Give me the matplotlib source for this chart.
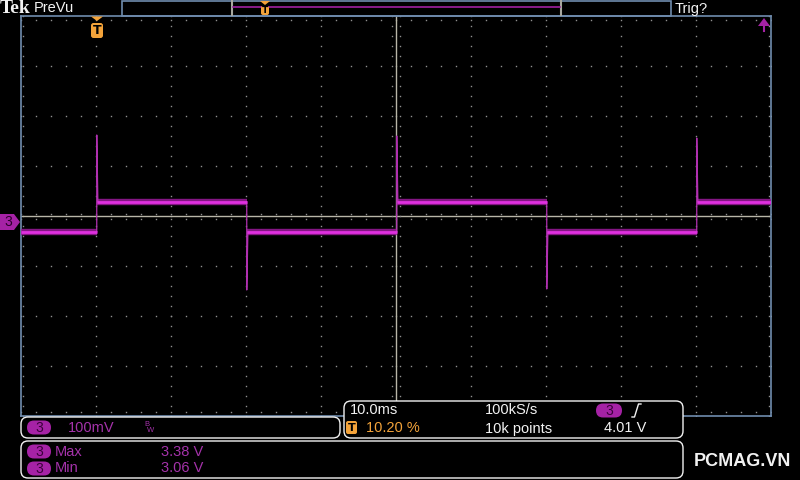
import matplotlib
matplotlib.use("Agg")
import matplotlib.pyplot as plt
from matplotlib.patches import FancyBboxPatch, Polygon, Rectangle

time_per_div_ms = 10.0
volts_per_div_mv = 100.0
edge_times_ms = [10.1, 30.1, 50.1, 70.1, 90.1]
edge_kind = ["rise", "fall", "rise", "fall", "rise"]
spike_peaks_mv = [162, -148, 160, -146, 156]
high_level_mv = 28
low_level_mv = -32
start_level_mv = low_level_mv
screen_span_ms = 100.0

ch_label = "3"
scale_text = "100mV"
max_text = "3.38 V"
min_text = "3.06 V"
timebase_text = "10.0ms"
rate_text = "100kS/s"
trig_pos_text = "10.20 %"
points_text = "10k points"
trig_level_text = "4.01 V"

# ---------------- colours ----------------
BG = "#000000"
BORDER = "#6f8cae"
GRID = "#909090"
CENTER = "#b8b6a8"
TRACE = "#e030e0"
TRACE_DIM = "#9c1a9c"
CH = "#a522a5"
CH_TEXT = "#a432aa"
ORANGE = "#f3a33a"
WHITE = "#f2f2f2"

fig = plt.figure(figsize=(8, 4.8), dpi=100, facecolor=BG)

# graticule axes: x 21..771 px, y 16..416 px
ax = fig.add_axes([21 / 800, 64 / 480, 750 / 800, 400 / 480], facecolor=BG)
ax.set_xlim(0, screen_span_ms)
ax.set_ylim(-4 * volts_per_div_mv, 4 * volts_per_div_mv)
ax.set_xticks([])
ax.set_yticks([])
for s in ax.spines.values():
    s.set_color(BORDER)
    s.set_linewidth(1.2)

# dotted grid
ys_fine = [v * 20 for v in range(-20, 21)]
xs_fine = [v * 2 for v in range(0, 51)]
for i in range(1, 10):
    if i == 5:
        continue
    ax.plot([i * time_per_div_ms] * len(ys_fine), ys_fine, ls="none", marker="s",
            ms=1.0, color=GRID, mew=0)
for j in range(-3, 4):
    if j == 0:
        continue
    ax.plot(xs_fine, [j * volts_per_div_mv] * len(xs_fine), ls="none", marker="s",
            ms=1.0, color=GRID, mew=0)
# border minor ticks
ax.plot(xs_fine, [392] * len(xs_fine), ls="none", marker="s", ms=1.0, color=GRID, mew=0)
ax.plot(xs_fine, [-392] * len(xs_fine), ls="none", marker="s", ms=1.0, color=GRID, mew=0)
ax.plot([0.3] * len(ys_fine), ys_fine, ls="none", marker="s", ms=1.0, color=GRID, mew=0)
ax.plot([99.7] * len(ys_fine), ys_fine, ls="none", marker="s", ms=1.0, color=GRID, mew=0)

# centre cross with small ticks
ax.axhline(0, color=CENTER, lw=1.0, zorder=2)
ax.axvline(50, color=CENTER, lw=1.0, zorder=2)
ax.plot(xs_fine, [5] * len(xs_fine), ls="none", marker="s", ms=1.0, color=GRID, mew=0)
ax.plot(xs_fine, [-5] * len(xs_fine), ls="none", marker="s", ms=1.0, color=GRID, mew=0)
ax.plot([49.5] * len(ys_fine), ys_fine, ls="none", marker="s", ms=1.0, color=GRID, mew=0)
ax.plot([50.5] * len(ys_fine), ys_fine, ls="none", marker="s", ms=1.0, color=GRID, mew=0)

# trace: plateaus
level = start_level_mv
t_prev = 0.0
for t, kind in zip(edge_times_ms, edge_kind):
    ax.plot([t_prev, t], [level, level], color=TRACE_DIM, lw=4.6, alpha=0.85,
            solid_capstyle="butt", zorder=4)
    ax.plot([t_prev, t], [level, level], color=TRACE, lw=2.0, solid_capstyle="butt", zorder=5)
    level = high_level_mv if kind == "rise" else low_level_mv
    t_prev = t
ax.plot([t_prev, screen_span_ms], [level, level], color=TRACE_DIM, lw=4.6, alpha=0.85,
        solid_capstyle="butt", zorder=4)
ax.plot([t_prev, screen_span_ms], [level, level], color=TRACE, lw=2.0,
        solid_capstyle="butt", zorder=5)

# trace: edges with spikes
for t, kind, pk in zip(edge_times_ms, edge_kind, spike_peaks_mv):
    new = high_level_mv if kind == "rise" else low_level_mv
    old = low_level_mv if kind == "rise" else high_level_mv
    ax.plot([t, t, t + 0.15], [old, pk, new], color="#b030b0", lw=0.9, zorder=4)

# ---------------- overlay in pixel coordinates ----------------
ov = fig.add_axes([0, 0, 1, 1], facecolor="none")
ov.set_xlim(0, 800)
ov.set_ylim(480, 0)
ov.axis("off")

FONT = "Liberation Sans"

# top bar
ov.text(0, 8.5, "Tek", color=WHITE, fontsize=14, fontweight="bold",
        family="Liberation Serif", va="center", ha="left")
ov.text(34, 8.5, "PreVu", color=WHITE, fontsize=10.5, family=FONT, va="center", ha="left")
ov.add_patch(Rectangle((121.5, 0.5), 549, 15.5, fill=False, ec=BORDER, lw=1.2))
ov.plot([232, 232], [1, 15], color="#a8a8a0", lw=1.5)
ov.plot([561, 561], [1, 15], color="#a8a8a0", lw=1.5)
ov.plot([233, 560], [7, 7], color="#a020a0", lw=1.2)
ov.add_patch(Polygon([(260, 1), (270, 1), (265, 5)], closed=True, fc=ORANGE, ec="none", zorder=4))
ov.add_patch(FancyBboxPatch((261, 6), 8, 9, boxstyle="round,pad=0,rounding_size=2",
                            fc=ORANGE, ec="none", zorder=4))
ov.text(265, 10.5, "T", color="#000000", fontsize=6.5, fontweight="bold", ha="center",
        va="center", family="DejaVu Sans", zorder=5)
ov.text(675, 8.5, "Trig?", color=WHITE, fontsize=10.5, family=FONT, va="center", ha="left")

# trigger position marker
ov.add_patch(Polygon([(91, 16.5), (103, 16.5), (97, 21)], closed=True, fc=ORANGE, ec="none"))
ov.add_patch(FancyBboxPatch((91, 23), 12, 15, boxstyle="round,pad=0,rounding_size=2.5",
                            fc=ORANGE, ec="none"))
ov.text(97, 30.5, "T", color="#000000", fontsize=9, fontweight="bold", ha="center",
        va="center", family="DejaVu Sans")

# trigger level arrow (off-screen above)
ov.add_patch(Polygon([(758, 26), (770, 26), (764, 18)], closed=True, fc=CH, ec="none"))
ov.plot([764, 764], [25, 31], color=CH, lw=1.5)

# channel ground marker
ov.add_patch(Polygon([(0, 214), (14, 214), (20, 222), (14, 230), (0, 230)], closed=True,
                     fc=CH, ec="none", zorder=4))
ov.text(8, 222.5, ch_label, color="#2a002a", fontsize=10, ha="center", va="center",
        family=FONT, zorder=5)


def pill(cx, cy, w=24, h=14):
    ov.add_patch(FancyBboxPatch((cx - w / 2, cy - h / 2), w, h,
                                boxstyle="round,pad=0,rounding_size=7", fc=CH, ec="none",
                                zorder=5))
    ov.text(cx, cy + 0.5, ch_label, color="#3a003a", fontsize=10, ha="center",
            va="center", family=FONT, zorder=6)


def rbox(x0, y0, x1, y1):
    ov.add_patch(FancyBboxPatch((x0, y0), x1 - x0, y1 - y0,
                                boxstyle="round,pad=0,rounding_size=7",
                                fc=BG, ec=WHITE, lw=1.0, zorder=3))


# bottom-left channel box
rbox(21, 417, 340, 438)
pill(39, 427.5)
ov.text(68, 427.5, scale_text, color=CH_TEXT, fontsize=10.5, family=FONT, va="center",
        zorder=4)
ov.text(144, 424, "B", color=CH_TEXT, fontsize=5.5, family=FONT, va="center", zorder=4)
ov.text(147, 430, "W", color=CH_TEXT, fontsize=5.5, family=FONT, va="center", zorder=4)

# measurement box
rbox(21, 441, 683, 478)
pill(39, 451.5)
pill(39, 468.5)
ov.text(55, 451.5, "Max", color=CH_TEXT, fontsize=10.5, family=FONT, va="center", zorder=4)
ov.text(55, 468.5, "Min", color=CH_TEXT, fontsize=10.5, family=FONT, va="center", zorder=4)
ov.text(161, 451.5, max_text, color=CH_TEXT, fontsize=10.5, family=FONT, va="center", zorder=4)
ov.text(161, 468.5, min_text, color=CH_TEXT, fontsize=10.5, family=FONT, va="center", zorder=4)

# horizontal / trigger box
rbox(344, 401, 683, 438)
ov.text(350, 410.5, timebase_text, color=WHITE, fontsize=10.5, family=FONT, va="center", zorder=4)
ov.text(485, 410.5, rate_text, color=WHITE, fontsize=10.5, family=FONT, va="center", zorder=4)
pill(609, 410.5, w=26)
ov.plot([632, 634.5, 638.5, 641], [417, 417, 404, 404], color=WHITE, lw=1.0, zorder=4)
ov.add_patch(FancyBboxPatch((346, 421), 11, 13, boxstyle="round,pad=0,rounding_size=2",
                            fc=ORANGE, ec="none", zorder=4))
ov.text(351.5, 427.8, "T", color="#000000", fontsize=8, fontweight="bold", ha="center",
        va="center", family="DejaVu Sans", zorder=5)
ov.text(366, 428.5, trig_pos_text, color=ORANGE, fontsize=10.5, family=FONT, va="center", zorder=4)
ov.text(485, 428.5, points_text, color=WHITE, fontsize=10.5, family=FONT, va="center", zorder=4)
ov.text(604, 428.5, trig_level_text, color=WHITE, fontsize=10.5, family=FONT, va="center", zorder=4)

# watermark
ov.text(742, 462, "PCMAG.VN", color=WHITE, fontsize=13, fontweight="bold",
        family="Liberation Sans", ha="center", va="center", zorder=4)

fig.savefig("out.png", dpi=100, facecolor=BG)
